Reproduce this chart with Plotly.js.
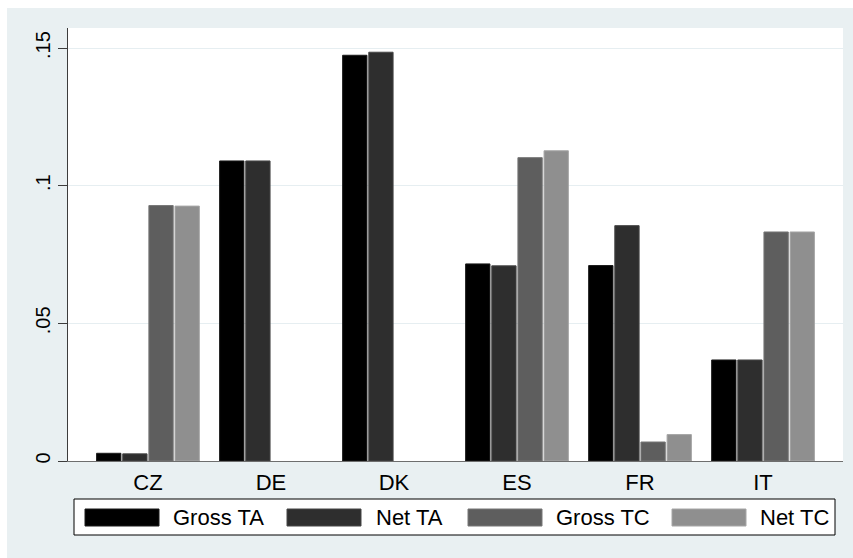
<!DOCTYPE html>
<html>
<head>
<meta charset="utf-8">
<script src="https://cdn.plot.ly/plotly-3.0.1.min.js"></script>
<style>
html,body{margin:0;padding:0;background:#ffffff;width:853px;height:558px;overflow:hidden;}
#chart{position:absolute;left:7px;top:8px;width:846px;height:550px;}
</style>
</head>
<body>
<div id="chart"></div>
<script>
// ---- data ----
var countries = ["CZ", "DE", "DK", "ES", "FR", "IT"];
var seriesNames = ["Gross TA", "Net TA", "Gross TC", "Net TC"];
var grossTA = [0.0028, 0.1090, 0.1474, 0.0716, 0.0710, 0.0367];
var netTA   = [0.0026, 0.1090, 0.1485, 0.0709, 0.0855, 0.0367];
var grossTC = [0.0928, null,   null,   0.1102, 0.0069, 0.0832];
var netTC   = [0.0926, null,   null,   0.1127, 0.0096, 0.0832];
var yTickVals = [0, 0.05, 0.1, 0.15];
var yTickText = ["0", ".05", ".1", ".15"];

var seriesValues = [grossTA, netTA, grossTC, netTC];
var colors = ["#000000", "#2e2e2e", "#5e5e5e", "#8f8f8f"];
var outline = ["#1a1a1a", "#474747", "#777777", "#a6a6a6"];

var traces = seriesValues.map(function (vals, i) {
  return {
    type: "bar",
    name: seriesNames[i],
    x: countries,
    y: vals,
    marker: {color: colors[i], line: {color: outline[i], width: 1}},
    showlegend: false,
    hoverinfo: "x+y+name"
  };
});

// page-pixel helpers (div offset 7,8; plot area 68..843 x 28..461)
var PL = 68, PR = 843, PT = 28, PB = 461;
function px(x) { return (x - PL) / (PR - PL); }
function py(y) { return (PB - y) / (PB - PT); }

var FONT = "Liberation Sans, Arial, sans-serif";
var shapes = [];
var annotations = [];
// legend box
shapes.push({type: "rect", xref: "paper", yref: "paper",
  x0: px(74), x1: px(835), y0: py(499), y1: py(535),
  fillcolor: "#ffffff", line: {color: "#000000", width: 1}});
var swX = [85, 287, 468, 672];
var txX = [171, 374, 554, 758];
for (var i = 0; i < 4; i++) {
  shapes.push({type: "rect", xref: "paper", yref: "paper",
    x0: px(swX[i]), x1: px(swX[i] + 74), y0: py(509), y1: py(526),
    fillcolor: colors[i], line: {color: outline[i], width: 1}});
  annotations.push({xref: "paper", yref: "paper", x: px(txX[i]), y: py(517.5),
    xanchor: "left", yanchor: "middle", showarrow: false, text: seriesNames[i],
    font: {family: FONT, size: 22, color: "#000000"}});
}

var layout = {
  width: 846, height: 550,
  margin: {l: PL - 7, r: 853 - PR, t: PT - 8, b: 558 - PB, pad: 0},
  paper_bgcolor: "#e9f0f2",
  plot_bgcolor: "#ffffff",
  barmode: "group",
  bargap: 0.15,
  bargroupgap: 0.07,
  font: {family: FONT, size: 20, color: "#000000"},
  xaxis: {
    type: "category",
    range: [-0.65, 5.65],
    showline: true, linecolor: "#6e6e6e", linewidth: 1,
    ticks: "", showgrid: false, zeroline: false,
    ticklabelstandoff: 2,
    tickfont: {family: FONT, size: 22, color: "#000000"},
    fixedrange: true
  },
  yaxis: {
    range: [0, 0.1573],
    tickvals: yTickVals, ticktext: yTickText,
    tickangle: -90,
    ticks: "outside", ticklen: 9, tickcolor: "#3c3c3c", tickwidth: 1,
    showline: true, linecolor: "#3c3c3c", linewidth: 1,
    showgrid: true, gridcolor: "#e6eef1", gridwidth: 1,
    zeroline: false,
    tickfont: {family: FONT, size: 20, color: "#000000"},
    fixedrange: true
  },
  shapes: shapes,
  annotations: annotations,
  showlegend: false
};

Plotly.newPlot("chart", traces, layout, {displayModeBar: false, staticPlot: true});
</script>
</body>
</html>
